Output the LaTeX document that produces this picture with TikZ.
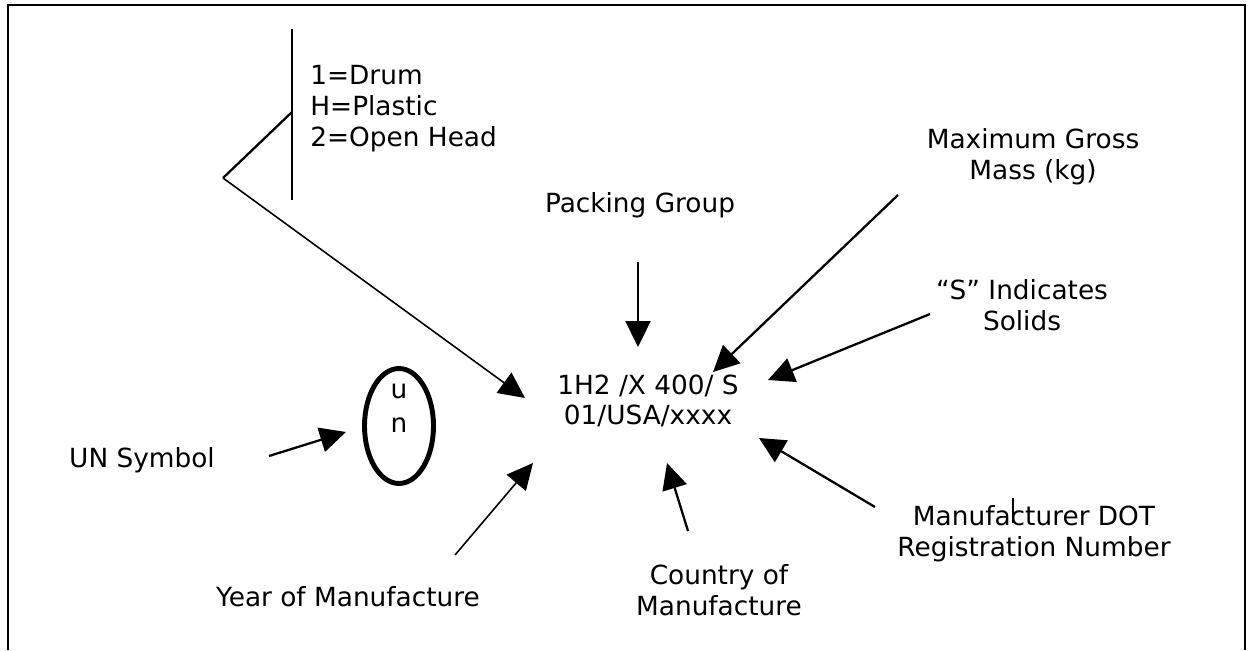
\documentclass[tikz,border=0pt]{standalone}
\usepackage{fontspec}
\setmainfont{DejaVu Sans}
\usepackage{tikz}
\usetikzlibrary{arrows.meta}
\usetikzlibrary{shapes.geometric}
\usetikzlibrary{positioning}

\begin{document}
\begin{tikzpicture}[
    x=0.02cm, y=-0.02cm,
    label/.style={font=\fontsize{15}{17.5}\selectfont, align=center, inner sep=0pt},
    arrow/.style={-{Triangle[length=0.52cm, width=0.5cm]}, line width=1.3pt, draw=black},
    thin_arrow/.style={-{Triangle[length=0.52cm, width=0.5cm]}, line width=0.9pt, draw=black},
    bracket/.style={line width=1.3pt, draw=black},
    unmark/.style={ellipse, draw=black, line width=2.8pt, minimum width=1.38cm, minimum height=2.3cm}
]
\useasboundingbox (0,0) rectangle (1253,650);

% Frame (open at the bottom)
\draw[line width=1.1pt] (8,650) -- (8,5) -- (1245,5) -- (1245,650);

% Marking
\node[label] (mark) at (648,401) {1H2 /X 400/ S\\01/USA/xxxx};

% UN symbol
\node[unmark] (unsym) at (399,426) {};
\node[label, font=\fontsize{15}{19}\selectfont] (unletters) at (399,408) {u\\n};

% Labels
\node[label, align=left, anchor=west] (codes) at (310,108.5) {1=Drum\\H=Plastic\\2=Open Head};
\node[label] (packing) at (640,205) {Packing Group};
\node[label] (maxmass) at (1033,157) {Maximum Gross\\Mass (kg)};
\node[label] (solids) at (1022,305) {“S” Indicates\\Solids};
\node[label] (dotreg) at (1034,534) {Manufacturer DOT\\Registration Number};
\node[label] (country) at (719,590) {Country of\\Manufacture};
\node[label] (year) at (348,597) {Year of Manufacture};
\node[label] (unlabel) at (142,460) {UN Symbol};

% Arrow ends
\coordinate (brtop) at (292,29);
\coordinate (brbot) at (292,200);
\coordinate (brmid) at (292,112);
\coordinate (brtip) at (223,178);
\coordinate (codehead) at (525,398);
\coordinate (packtail) at (638,262);
\coordinate (packhead) at (638,347);
\coordinate (masstail) at (898,195);
\coordinate (masshead) at (713,372);
\coordinate (soltail) at (930,314);
\coordinate (solhead) at (768,380);
\coordinate (dottail) at (875,507);
\coordinate (dothead) at (759,438);
\coordinate (ctytail) at (688,531);
\coordinate (ctyhead) at (667,463);
\coordinate (yeartail) at (455,555);
\coordinate (yearhead) at (533,463);
\coordinate (untail) at (269,456);
\coordinate (unhead) at (346,432);
\coordinate (ticktop) at (1013,498);
\coordinate (tickbot) at (1013,523);

% Bracket for the code
\draw[bracket] (brtop) -- (brbot);
\draw[bracket] (brmid) -- (brtip);
\draw[thin_arrow] (brtip) -- (codehead);

% Pointer arrows
\draw[arrow] (packtail) -- (packhead);
\draw[arrow] (masstail) -- (masshead);
\draw[arrow] (soltail) -- (solhead);
\draw[arrow] (dottail) -- (dothead);
\draw[arrow] (ctytail) -- (ctyhead);
\draw[thin_arrow] (yeartail) -- (yearhead);
\draw[arrow] (untail) -- (unhead);

% stray mark in the label
\draw[line width=0.6pt] (ticktop) -- (tickbot);

\end{tikzpicture}
\end{document}
